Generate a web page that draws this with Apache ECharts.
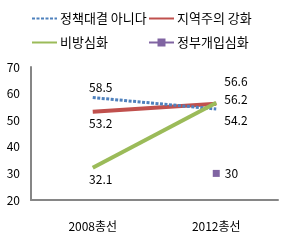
<!DOCTYPE html>
<html>
<head>
<meta charset="utf-8">
<script src="https://cdn.jsdelivr.net/npm/echarts@6/dist/echarts.min.js"></script>
<style>
  html, body { margin: 0; padding: 0; background: #fff; }
  #chart { width: 292px; height: 242px; }
</style>
</head>
<body>
<div id="chart"></div>
<script>
// categories + series values
var categories = ["2008총선", "2012총선"];
var noPolicy = [58.5, 54.2];   // 정책대결 아니다
var regional = [53.2, 56.2];   // 지역주의 강화
var slander = [32.1, 56.6];    // 비방심화
var govt = [null, 30];         // 정부개입심화
var yTicks = [20, 70, 10];     // min, max, interval

var font = "'Noto Sans CJK KR', 'Noto Sans', sans-serif";
var clear = "rgba(0,0,0,0)";

function lbl(pos, offset) {
  return { show: true, position: pos, offset: offset, color: "#000", fontSize: 12, fontFamily: font };
}

var chart = echarts.init(document.getElementById("chart"));
chart.setOption({
  animation: false,
  textStyle: { fontFamily: font },
  legend: [
    { left: 29, top: 10, data: ["정책대결 아니다"] },
    { left: 146, top: 10, data: ["지역주의 강화"] },
    { left: 29, top: 34, data: ["비방심화"] },
    { left: 146, top: 34, data: ["정부개입심화"] }
  ].map(function (l) {
    l.itemWidth = 25;
    l.itemHeight = 10;
    l.itemGap = 4;
    l.padding = 2;
    l.textStyle = { fontSize: 13, color: "#000", fontFamily: font, padding: [0, 0, 0, -2] };
    return l;
  }),
  grid: { left: 31, right: 14, top: 67, bottom: 42 },
  xAxis: {
    type: "category",
    data: categories,
    boundaryGap: true,
    axisLine: { lineStyle: { color: "#868686", width: 2 } },
    axisTick: { show: false },
    axisLabel: { color: "#000", fontSize: 12, margin: 20, fontFamily: font }
  },
  yAxis: {
    type: "value",
    min: yTicks[0],
    max: yTicks[1],
    interval: yTicks[2],
    axisLine: { show: true, lineStyle: { color: "#868686", width: 2 } },
    axisTick: { show: false },
    splitLine: { show: false },
    axisLabel: { color: "#000", fontSize: 12, margin: 11, fontFamily: font }
  },
  series: [
    {
      name: "정책대결 아니다",
      type: "line",
      data: noPolicy.map(function (v, i) {
        return { value: v, label: i === 0 ? lbl("top", [8, 2]) : lbl("right", [2, 11]) };
      }),
      symbol: "circle",
      symbolSize: 2,
      itemStyle: { color: clear, borderWidth: 0 },
      lineStyle: { color: "#4F81BD", width: 3, type: [3, 1.5] },
      z: 4
    },
    {
      name: "지역주의 강화",
      type: "line",
      data: regional.map(function (v, i) {
        return { value: v, label: i === 0 ? lbl("bottom", [8, 0]) : lbl("right", [2, -4]) };
      }),
      symbol: "circle",
      symbolSize: 2,
      itemStyle: { color: clear, borderWidth: 0 },
      lineStyle: { color: "#C0504D", width: 4 },
      z: 3
    },
    {
      name: "비방심화",
      type: "line",
      data: slander.map(function (v, i) {
        return { value: v, label: i === 0 ? lbl("bottom", [8, 0]) : lbl("right", [2, -21]) };
      }),
      symbol: "circle",
      symbolSize: 2,
      itemStyle: { color: clear, borderWidth: 0 },
      lineStyle: { color: "#9BBB59", width: 4 },
      z: 5
    },
    {
      name: "정부개입심화",
      type: "line",
      data: govt.map(function (v) {
        return v == null ? "-" : { value: v, label: lbl("right", [0, 0]) };
      }),
      symbol: "rect",
      symbolSize: 7,
      showAllSymbol: true,
      itemStyle: { color: "#8064A2" },
      lineStyle: { color: "#8064A2", width: 4 },
      z: 6
    }
  ]
});
</script>
</body>
</html>
